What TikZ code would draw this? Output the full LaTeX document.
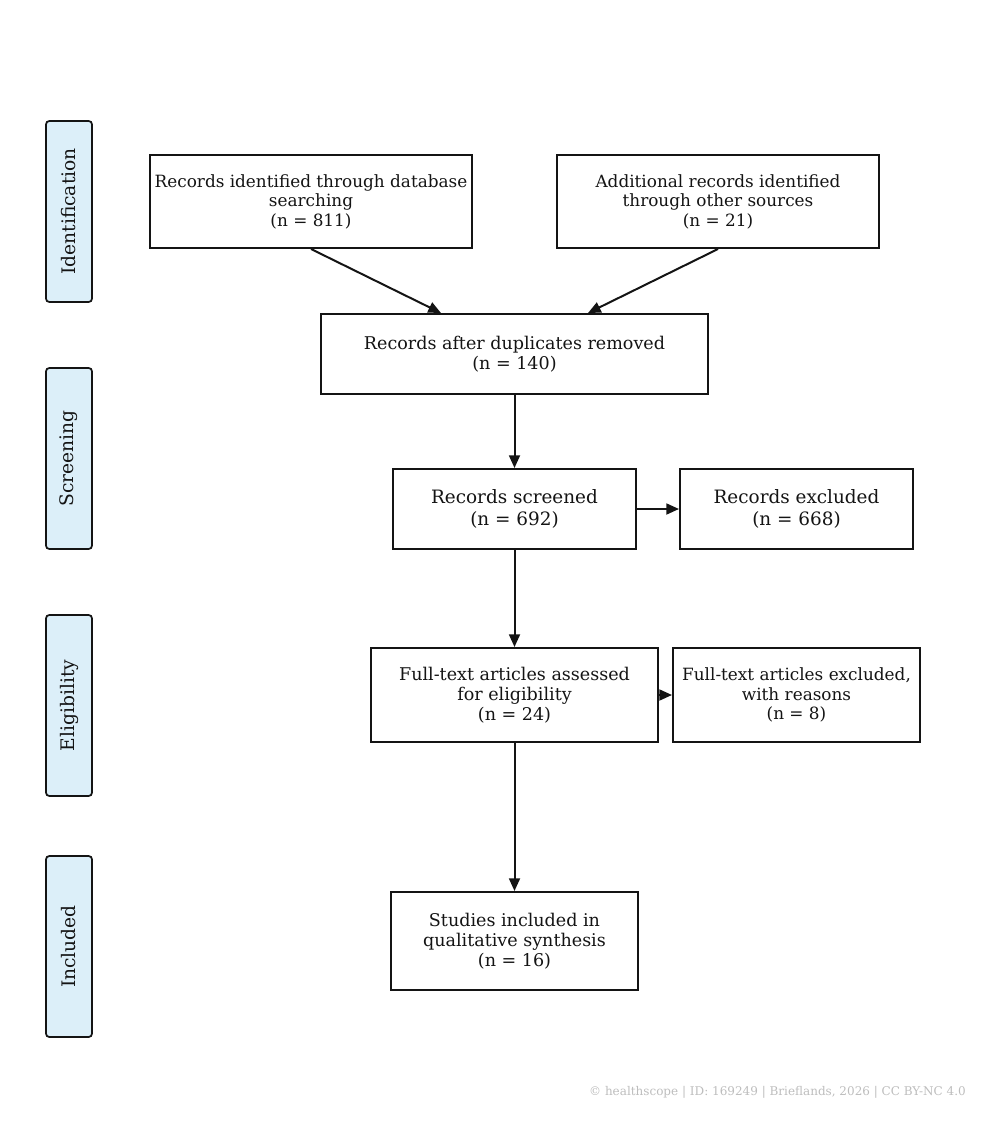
\documentclass[tikz,border=0pt]{standalone}
\usepackage{fontspec}
\setmainfont{DejaVu Serif}
\usetikzlibrary{arrows.meta,calc}
\definecolor{sideblue}{HTML}{DCEFF9}
\definecolor{wm}{HTML}{BDBDBD}
\definecolor{ink}{HTML}{141414}
\begin{document}
\begin{tikzpicture}[x={(0.75pt,0)},y={(0,-0.75pt)},
  box/.style={draw=ink,line width=1.5pt,fill=white,inner sep=0pt,align=center,text=ink,font=\fontsize{12.65pt}{14.6pt}\selectfont},
  midbox/.style={box,font=\fontsize{13.15pt}{14.8pt}\selectfont},
  bigbox/.style={box,font=\fontsize{13.8pt}{16.5pt}\selectfont},
  side/.style={draw=ink,line width=1.3pt,fill=sideblue,rounded corners=2.5pt,inner sep=0pt,minimum width=34.5pt,minimum height=135.75pt,text=ink,font=\fontsize{14pt}{16pt}\selectfont},
  arr/.style={draw=ink,line width=1.5pt,-{Triangle[length=9.5pt,width=8.2pt]}}]
\useasboundingbox (0,0) rectangle (1000,1131);
% side labels
\node[side] (s1) at (69,211.5) {\rotatebox{90}{Identification}};
\node[side] (s2) at (69,458.5) {\rotatebox{90}{Screening}};
\node[side] (s3) at (69,705.5) {\rotatebox{90}{Eligibility}};
\node[side] (s4) at (69,946.5) {\rotatebox{90}{Included}};
% boxes
\node[box,minimum width=241.5pt,minimum height=69.75pt] (b1) at (311,201.5) {Records identified through database\\searching\\(n = 811)};
\node[box,minimum width=241.5pt,minimum height=69.75pt] (b2) at (718,201.5) {Additional records identified\\through other sources\\(n = 21)};
\node[midbox,minimum width=290.25pt,minimum height=60pt] (b3) at (514.5,354) {Records after duplicates removed\\(n = 140)};
\node[bigbox,minimum width=182.25pt,minimum height=60pt] (b4) at (514.5,509) {Records screened\\(n = 692)};
\node[bigbox,minimum width=174.75pt,minimum height=60pt] (b5) at (796.5,509) {Records excluded\\(n = 668)};
\node[midbox,minimum width=215.25pt,minimum height=70.5pt] (b6) at (514.5,695) {Full-text articles assessed\\for eligibility\\(n = 24)};
\node[box,minimum width=185.25pt,minimum height=70.5pt] (b7) at (796.5,695) {Full-text articles excluded,\\with reasons\\(n = 8)};
\node[midbox,minimum width=185.25pt,minimum height=73.5pt] (b8) at (514.5,941) {Studies included in\\qualitative synthesis\\(n = 16)};
% connectors
\draw[arr] (b1.south) -- ($(b3.north)+(-73.5,0)$);
\draw[arr] (b2.south) -- ($(b3.north)+(73.5,0)$);
\draw[arr] (b3.south) -- (b4.north);
\draw[arr] (b4.east) -- (b5.west);
\draw[arr] (b4.south) -- (b6.north);
\draw[arr] (b6.east) -- (b7.west);
\draw[arr] (b6.south) -- (b8.north);
% watermark
\node[anchor=east,text=wm,inner sep=0pt,font=\fontsize{9pt}{11pt}\selectfont] (wm) at (966,1092) {© healthscope | ID: 169249 | Brieflands, 2026 | CC BY-NC 4.0};
\end{tikzpicture}
\end{document}
